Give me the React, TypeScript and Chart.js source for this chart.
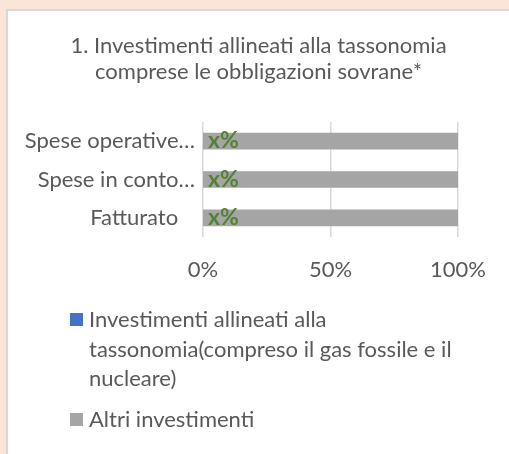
import React, { useEffect, useRef } from "react";
import { Chart, registerables } from "chart.js";

Chart.register(...registerables);

// ---- Data ----
const categories = ["Spese operative…", "Spese in conto…", "Fatturato   "];
const alignedValues = [0, 0, 0];
const otherValues = [100, 100, 100];
const barLabels = ["x%", "x%", "x%"];
const titleLines = [
  "1. Investimenti allineati alla tassonomia",
  "comprese le obbligazioni sovrane*",
];
const seriesNames = [
  "Investimenti allineati alla tassonomia(compreso il gas fossile e il nucleare)",
  "Altri investimenti",
];
const legendLines = [
  ["Investimenti allineati alla", "tassonomia(compreso il gas fossile e il", "nucleare)"],
  ["Altri investimenti"],
];

const FONT = "Lato";
const TEXT_COLOR = "#595959";
const SERIES_COLORS = ["#4472C4", "#A5A5A5"];

const dataLabelPlugin = {
  id: "xpctLabels",
  afterDatasetsDraw(chart: any) {
    const ctx = chart.ctx;
    const meta = chart.getDatasetMeta(0);
    ctx.save();
    ctx.font = `bold 23px ${FONT}`;
    ctx.fillStyle = "#548235";
    ctx.textAlign = "left";
    ctx.textBaseline = "alphabetic";
    meta.data.forEach((el: any, i: number) => {
      const left = Math.min(el.x, el.base);
      ctx.fillText(barLabels[i], left + 5, el.y + 7);
    });
    ctx.restore();
  },
};

const legendPlugin = {
  id: "wrappedLegend",
  afterDraw(chart: any) {
    const ctx = chart.ctx;
    const bottom = chart.chartArea.bottom;
    ctx.save();
    ctx.font = `22px ${FONT}`;
    ctx.textAlign = "left";
    ctx.textBaseline = "alphabetic";
    const boxX = 62;
    const textX = 81;
    const lineStep = 29.5;
    let baseline = bottom + 90;
    legendLines.forEach((lines, i) => {
      ctx.fillStyle = SERIES_COLORS[i];
      ctx.fillRect(boxX, baseline - 14, 13, 13);
      ctx.fillStyle = TEXT_COLOR;
      lines.forEach((ln, j) => {
        ctx.fillText(ln, textX, baseline + j * lineStep);
      });
      baseline += (lines.length - 1) * lineStep + 41;
    });
    ctx.restore();
  },
};

export default function App() {
  const ref = useRef<HTMLCanvasElement | null>(null);

  useEffect(() => {
    if (!ref.current) return;
    const chart = new Chart(ref.current, {
      type: "bar",
      data: {
        labels: categories,
        datasets: [
          {
            label: seriesNames[0],
            data: alignedValues,
            backgroundColor: SERIES_COLORS[0],
            barThickness: 16,
          },
          {
            label: seriesNames[1],
            data: otherValues,
            backgroundColor: SERIES_COLORS[1],
            barThickness: 16,
          },
        ],
      },
      options: {
        indexAxis: "y",
        responsive: false,
        animation: false,
        layout: { padding: { left: 0, right: 0, top: 0, bottom: 167 } },
        scales: {
          x: {
            stacked: true,
            min: 0,
            max: 100,
            ticks: {
              stepSize: 50,
              color: TEXT_COLOR,
              font: { family: FONT, size: 22 },
              padding: 20,
              callback: (v: any) => v + "%",
            },
            grid: { color: "#D9D9D9", lineWidth: 1.5, drawTicks: false },
            border: { display: false },
            afterFit: (s: any) => {
              s.height = 50;
            },
          },
          y: {
            stacked: true,
            ticks: {
              color: TEXT_COLOR,
              font: { family: FONT, size: 22 },
              padding: 8,
              autoSkip: false,
            },
            grid: { display: false, drawTicks: false },
            border: { display: false },
            afterFit: (s: any) => {
              s.width = 195;
            },
          },
          yRight: {
            type: "category",
            position: "right",
            labels: categories,
            ticks: { display: false },
            grid: { display: false, drawTicks: false },
            border: { display: false },
            afterFit: (s: any) => {
              s.width = 51;
            },
          },
        },
        plugins: {
          legend: { display: false },
          tooltip: { enabled: false },
          title: {
            display: true,
            text: titleLines,
            color: TEXT_COLOR,
            font: { family: FONT, size: 22, weight: "normal", lineHeight: "26px" as any },
            padding: { top: 22, bottom: 37 },
          },
        },
      },
      plugins: [dataLabelPlugin, legendPlugin],
    });
    return () => chart.destroy();
  }, []);

  return (
    <div style={{ position: "fixed", inset: 0, background: "#FBE5D6", overflow: "hidden" }}>
      <div
        style={{
          position: "absolute",
          left: 6,
          top: 9,
          width: 520,
          height: 460,
          border: "2px solid #D9D9D9",
          background: "#FFFFFF",
        }}
      >
        <canvas
          ref={ref}
          width={501}
          height={443}
          style={{ position: "absolute", left: 0, top: 0, width: 501, height: 443 }}
        />
      </div>
    </div>
  );
}
